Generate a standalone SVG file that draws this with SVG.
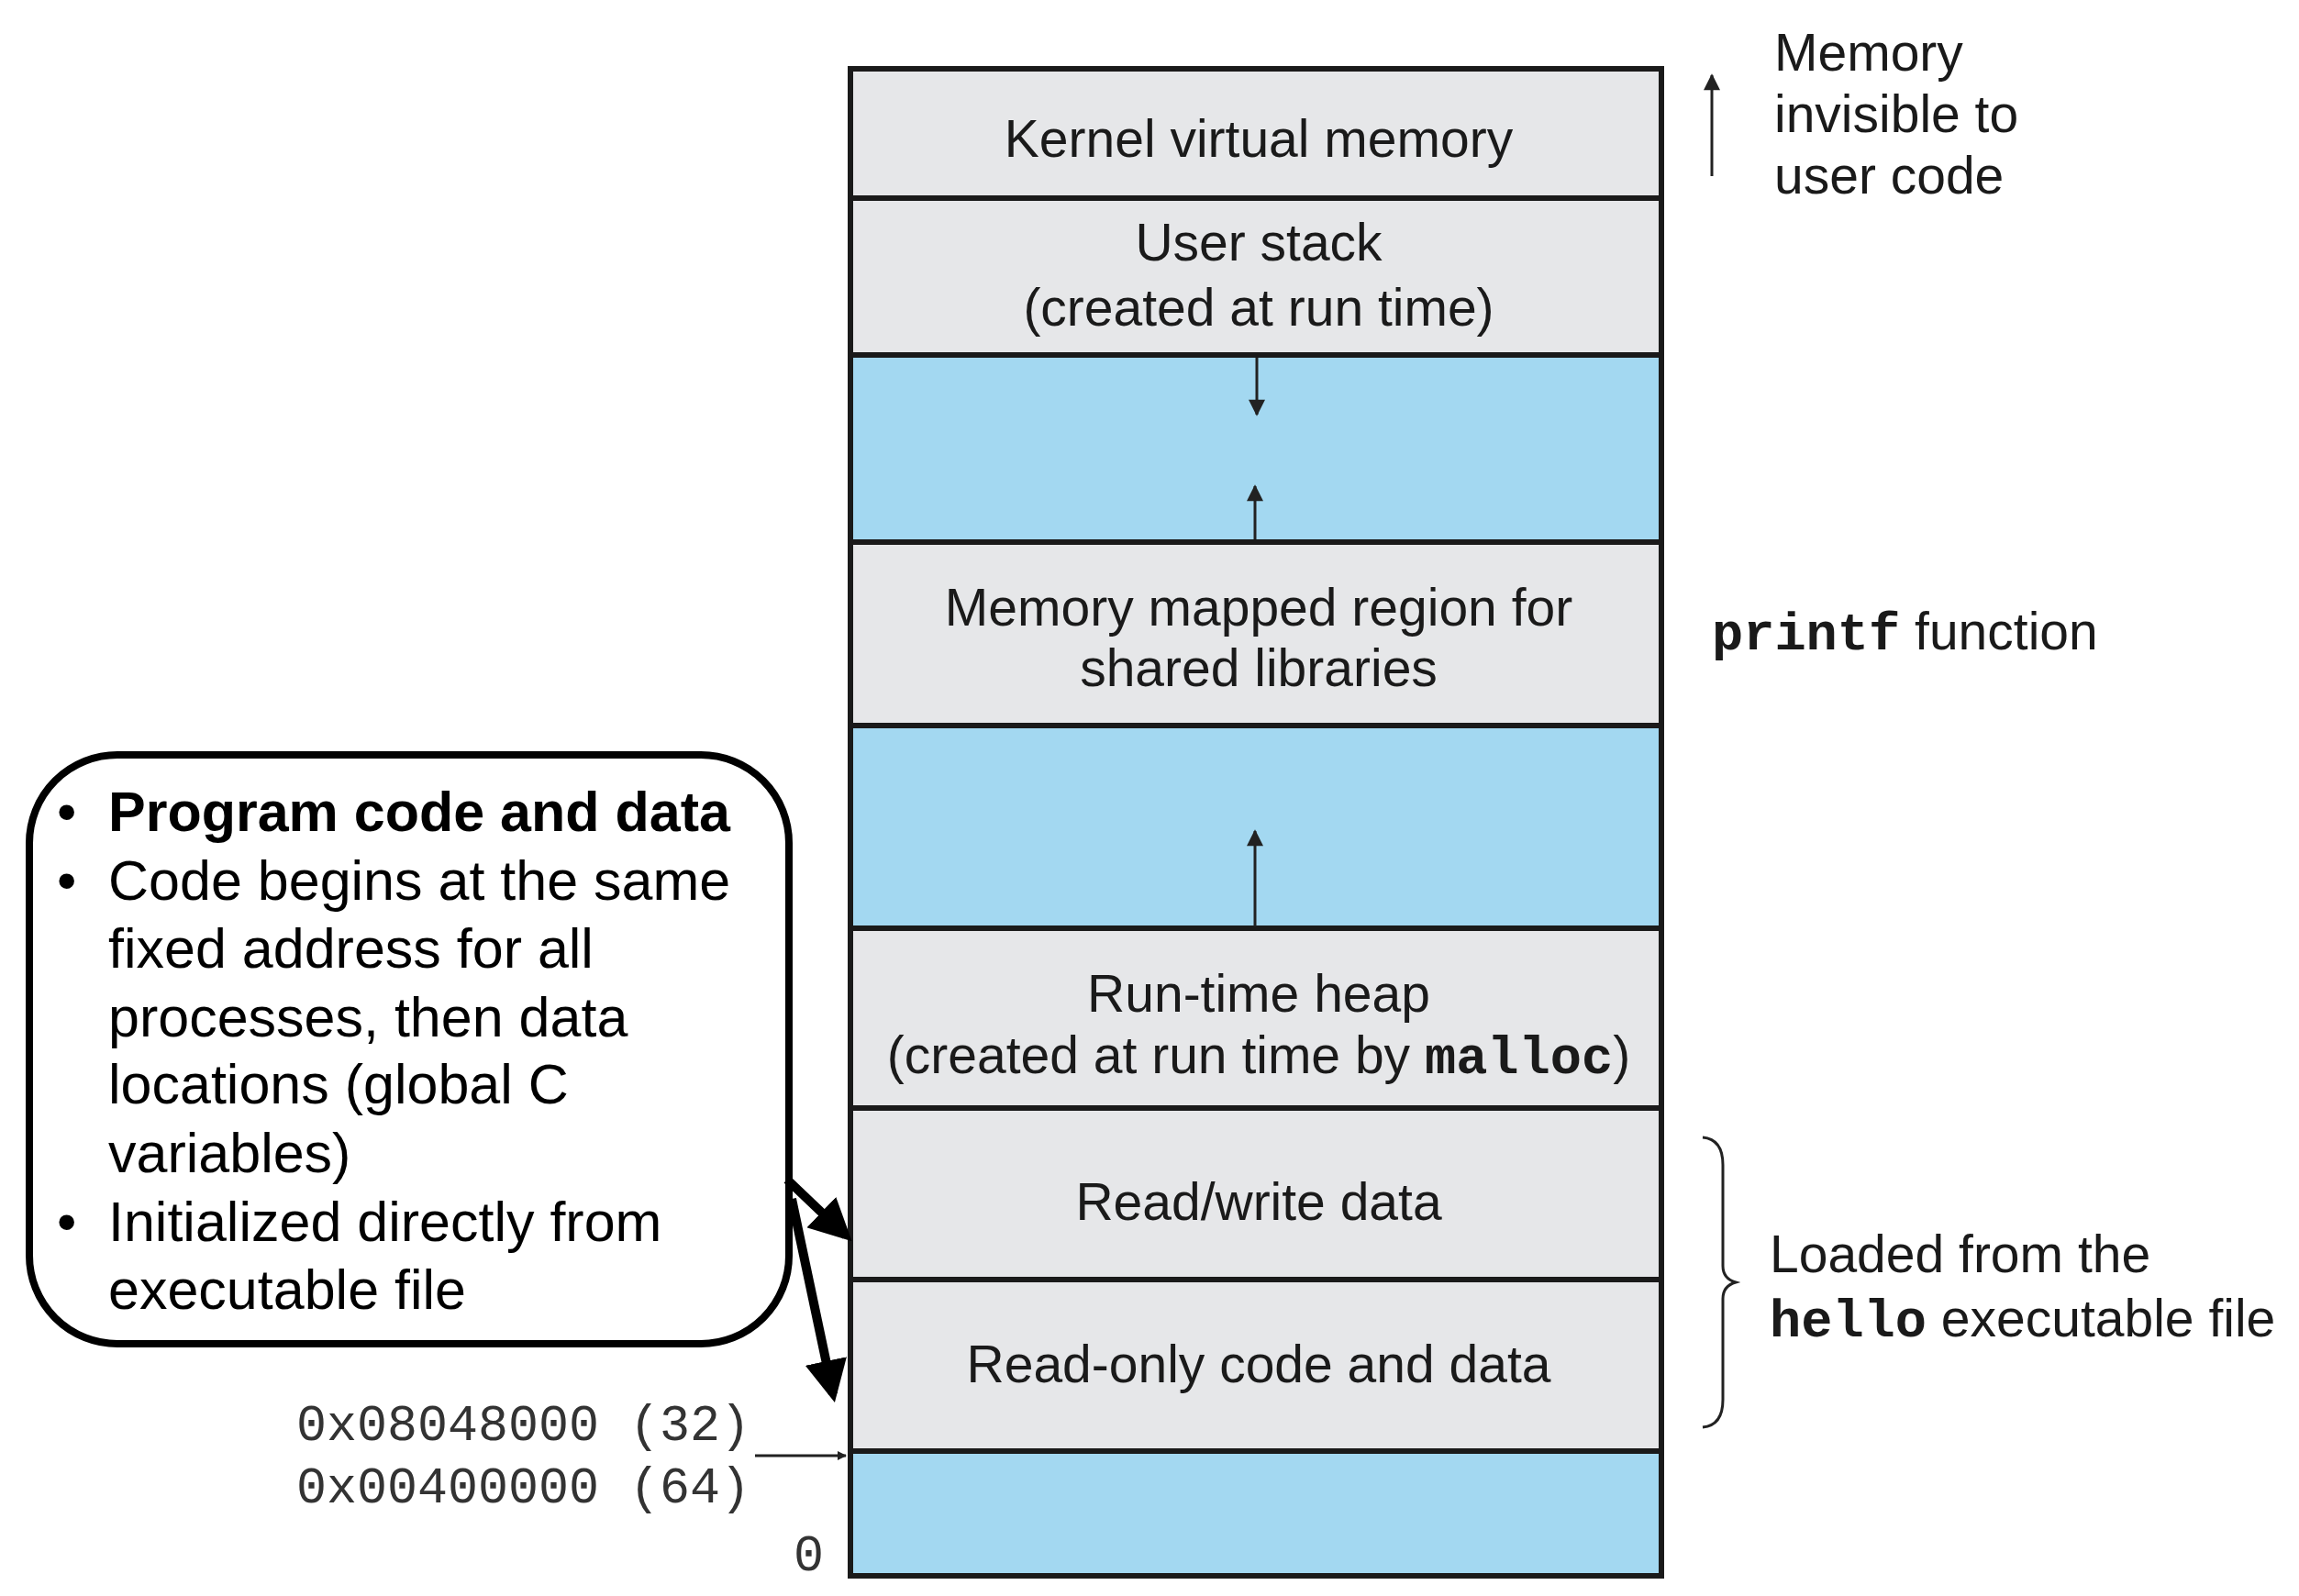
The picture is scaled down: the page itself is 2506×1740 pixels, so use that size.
<svg xmlns="http://www.w3.org/2000/svg" width="2506" height="1740" viewBox="0 0 2506 1740">
<style>
.g{fill:#e6e7e9;stroke:#1a1a1a;stroke-width:6}
.b{fill:#a3d8f1;stroke:#1a1a1a;stroke-width:6}
text{font-family:"Liberation Sans",Arial,sans-serif;fill:#1a1a1a}
.t{font-size:57px;text-anchor:middle}
.r{font-size:57px}
.m{font-family:"Liberation Mono","Courier New",monospace;font-weight:bold}
.c{font-size:61px;fill:#000}
.a{font-family:"Liberation Mono","Courier New",monospace;font-size:55px;fill:#333}
.thin{stroke:#222;stroke-width:3;fill:none}
.thick{stroke:#000;stroke-width:10;fill:none}
</style>
<defs>
<marker id="ah" viewBox="0 0 10 10" refX="9" refY="5" markerWidth="14" markerHeight="10" orient="auto" markerUnits="userSpaceOnUse"><path d="M0,0L10,5L0,10z" fill="#222"/></marker>
<marker id="as" viewBox="0 0 10 10" refX="9" refY="5" markerWidth="24" markerHeight="18" orient="auto" markerUnits="userSpaceOnUse"><path d="M0,0L10,5L0,10z" fill="#222"/></marker>
<marker id="ab" viewBox="0 0 10 10" refX="8" refY="5" markerWidth="46" markerHeight="46" orient="auto" markerUnits="userSpaceOnUse"><path d="M0,0L10,5L0,10z" fill="#000"/></marker>
</defs>
<g id="kernel"><rect class="g" x="927" y="75" width="884" height="141"/><text class="t" x="1372" y="171">Kernel virtual memory</text></g>
<g id="stack"><rect class="g" x="927" y="216" width="884" height="171"/><text class="t" x="1372" y="284">User stack</text><text class="t" x="1372" y="355">(created at run time)</text></g>
<g id="gap1"><rect class="b" x="927" y="387" width="884" height="204"/></g>
<g id="mmap"><rect class="g" x="927" y="591" width="884" height="200"/><text class="t" x="1372" y="682">Memory mapped region for</text><text class="t" x="1372" y="748">shared libraries</text></g>
<g id="gap2"><rect class="b" x="927" y="791" width="884" height="221"/></g>
<g id="heap"><rect class="g" x="927" y="1012" width="884" height="196"/><text class="t" x="1372" y="1103">Run-time heap</text><text class="t" x="1372" y="1170">(created at run time by <tspan class="m">malloc</tspan>)</text></g>
<g id="rw"><rect class="g" x="927" y="1208" width="884" height="187"/><text class="t" x="1372" y="1330">Read/write data</text></g>
<g id="ro"><rect class="g" x="927" y="1395" width="884" height="187"/><text class="t" x="1372" y="1507">Read-only code and data</text></g>
<g id="bottom"><rect class="b" x="927" y="1582" width="884" height="136"/></g>
<g id="labels">
<text class="r" x="1934" y="77">Memory</text><text class="r" x="1934" y="144">invisible to</text><text class="r" x="1934" y="211">user code</text>
<text class="r" x="1866" y="708"><tspan class="m">printf</tspan> function</text>
<text class="r" x="1929" y="1387">Loaded from the</text>
<text class="r" x="1929" y="1457"><tspan class="m">hello</tspan> executable file</text>
<text class="a" x="818" y="1570" text-anchor="end">0x08048000 (32)</text>
<text class="a" x="818" y="1638" text-anchor="end">0x00400000 (64)</text>
<text class="a" x="898" y="1712" text-anchor="end">0</text>
</g>
<g id="callout">
<rect x="32" y="823" width="828" height="642" rx="96" fill="#fff" stroke="#000" stroke-width="8"/>
<text class="c" x="62" y="906">•</text><text class="c" x="118" y="906" font-weight="bold">Program code and data</text>
<text class="c" x="62" y="981">•</text><text class="c" x="118" y="981">Code begins at the same</text>
<text class="c" x="118" y="1055">fixed address for all</text>
<text class="c" x="118" y="1130">processes, then data</text>
<text class="c" x="118" y="1203">locations (global C</text>
<text class="c" x="118" y="1278">variables)</text>
<text class="c" x="62" y="1353">•</text><text class="c" x="118" y="1353">Initialized directly from</text>
<text class="c" x="118" y="1427">executable file</text>
</g>
<g id="connectors">
<line class="thin" x1="1370" y1="390" x2="1370" y2="452" marker-end="url(#as)"/>
<line class="thin" x1="1368" y1="588" x2="1368" y2="530" marker-end="url(#as)"/>
<line class="thin" x1="1368" y1="1010" x2="1368" y2="906" marker-end="url(#as)"/>
<line class="thin" x1="1866" y1="192" x2="1866" y2="82" marker-end="url(#as)"/>
<line class="thin" x1="823" y1="1587" x2="922" y2="1587" stroke-width="2" marker-end="url(#ah)"/>
<path class="thin" d="M1856,1240 Q1878,1242 1878,1270 L1878,1380 Q1878,1394 1892,1398 Q1878,1402 1878,1416 L1878,1526 Q1878,1554 1856,1556"/>
<line class="thick" x1="858" y1="1286" x2="922" y2="1347" marker-end="url(#ab)"/>
<line class="thick" x1="863" y1="1307" x2="908" y2="1520" marker-end="url(#ab)"/>
</g>
</svg>
